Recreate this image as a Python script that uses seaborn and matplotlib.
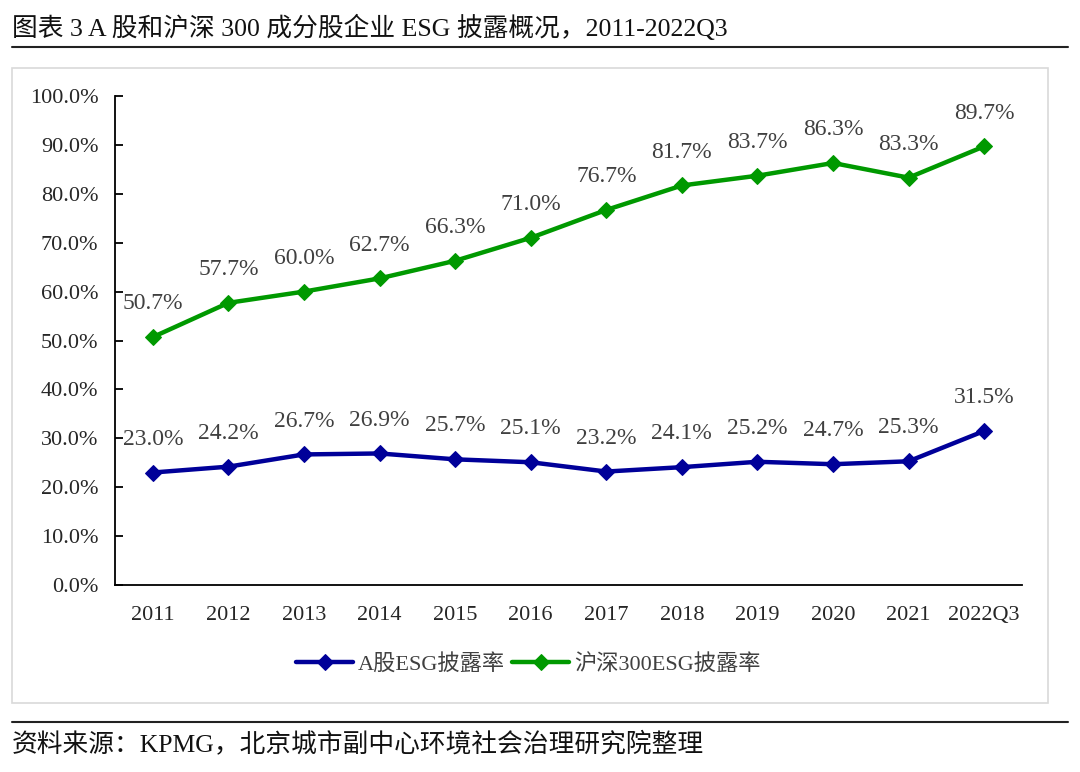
import pandas as pd
import matplotlib.pyplot as plt
import seaborn as sns
from matplotlib.patches import Rectangle
from matplotlib.lines import Line2D
from matplotlib.ticker import FuncFormatter, FixedLocator

years = ['2011', '2012', '2013', '2014', '2015', '2016', '2017',
         '2018', '2019', '2020', '2021', '2022Q3']
a_share = [23.0, 24.2, 26.7, 26.9, 25.7, 25.1, 23.2, 24.1, 25.2, 24.7, 25.3, 31.5]
hs300 = [50.7, 57.7, 60.0, 62.7, 66.3, 71.0, 76.7, 81.7, 83.7, 86.3, 83.3, 89.7]
series_names = ['A股ESG披露率', '沪深300ESG披露率']
colors = ['#000099', '#009900']

df = pd.DataFrame({'year': years, series_names[0]: a_share, series_names[1]: hs300})

sns.set_style('white')
plt.rcParams['font.family'] = ['Liberation Serif', 'Noto Sans CJK SC']

fig = plt.figure(figsize=(10.8, 7.72), dpi=100)

# title and source text with rules
fig.text(12 / 1080, 1 - 28 / 772, '图表 3 A 股和沪深 300 成分股企业 ESG 披露概况，2011-2022Q3',
         fontsize=18.5, va='center', ha='left', color='#111111')
fig.add_artist(Line2D([12 / 1080, 1068 / 1080], [1 - 47 / 772] * 2, color='#222222', lw=1.5))
fig.add_artist(Line2D([12 / 1080, 1068 / 1080], [1 - 722 / 772] * 2, color='#222222', lw=1.5))
fig.text(12 / 1080, 1 - 745 / 772, '资料来源：KPMG，北京城市副中心环境社会治理研究院整理',
         fontsize=18.5, va='center', ha='left', color='#111111')

# chart frame
fig.add_artist(Rectangle((12 / 1080, 1 - 703 / 772), 1036 / 1080, 635 / 772,
                         transform=fig.transFigure, fill=False, ec='#d9d9d9', lw=1.2))

ax = fig.add_axes([115 / 1080, 1 - 585 / 772, 907 / 1080, 489 / 772])

for name, col in zip(series_names, colors):
    sns.lineplot(data=df, x='year', y=name, ax=ax, color=col, lw=3.2,
                 marker='D', markersize=8, markeredgecolor=col, label=name)
    for i, v in enumerate(df[name]):
        ax.annotate(f'{v:.1f}%', (i, v), xytext=(0, 24), textcoords='offset points',
                    ha='center', va='center', fontsize=17, color='#404040')

ax.set_xlim(-0.5, len(years) - 0.5)
ax.set_ylim(0, 100)
ax.set_yticks(range(0, 101, 10))
ax.yaxis.set_major_formatter(FuncFormatter(lambda v, p: f'{v:.1f}%'))
ax.set_xlabel('')
ax.set_ylabel('')

ax.xaxis.set_minor_locator(FixedLocator([i - 0.5 for i in range(len(years) + 1)]))
ax.tick_params(axis='x', which='major', length=0, pad=15, labelsize=16)
ax.tick_params(axis='x', which='minor', direction='in', length=6, width=1.3, color='black')
ax.tick_params(axis='y', direction='in', length=6, width=1.3, color='black', pad=12, labelsize=16)
ax.tick_params(left=True, bottom=True)

for s in ['top', 'right']:
    ax.spines[s].set_visible(False)
for s in ['left', 'bottom']:
    ax.spines[s].set_color('black')
    ax.spines[s].set_linewidth(1.3)

leg = ax.legend(loc='center', bbox_to_anchor=(528 / 1080, 1 - 664 / 772),
                bbox_transform=fig.transFigure, ncol=2, frameon=False,
                fontsize=16, handlelength=2.6, columnspacing=0.3, handletextpad=0.2)
for t in leg.get_texts():
    t.set_color('#404040')

fig.savefig('out.png', dpi=100)
